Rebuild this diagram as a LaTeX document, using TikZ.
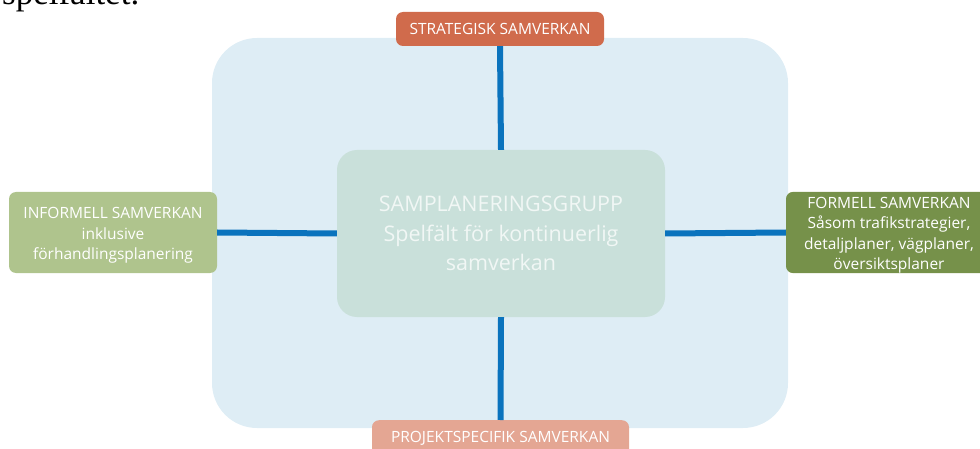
\documentclass[tikz,border=0pt]{standalone}
\usepackage{fontspec}
\setmainfont{Open Sans}
\newfontfamily\serifbody{Liberation Serif}
\definecolor{bgblue}{HTML}{DEEDF5}
\definecolor{centerbox}{HTML}{C9E0DA}
\definecolor{centertext}{HTML}{F1F7F5}
\definecolor{linkblue}{HTML}{0A73BD}
\definecolor{topred}{HTML}{D06B4C}
\definecolor{leftgreen}{HTML}{AFC48D}
\definecolor{rightgreen}{HTML}{76914A}
\definecolor{bottompink}{HTML}{E4A693}
\newcommand{\lowertext}[1]{\raisebox{-2.5pt}[\height][\depth]{\begin{tabular}{@{}c@{}}#1\end{tabular}}}
\begin{document}
\begin{tikzpicture}[x=1pt,y=-1pt,
  sidebox/.style={rounded corners=7pt, text=white, align=center, inner sep=0pt, font=\fontsize{15.5}{20.3}\selectfont},
  link/.style={draw=linkblue, line width=6pt}]
\useasboundingbox (0,0) rectangle (980,449);
\clip (0,0) rectangle (980,449);
% partial caption text at top-left
\node[anchor=base west, inner sep=0pt, font=\serifbody\fontsize{35}{35}\selectfont] (caption) at (2,5) {spelfältet.};
% background panel
\fill[bgblue, rounded corners=45pt] (212,38) rectangle (788,428);
% nodes
\coordinate (ctl) at (337,150);
\coordinate (cbr) at (665,317);
\fill[centerbox, rounded corners=20pt] (ctl) rectangle (cbr);
\node[inner sep=0pt, minimum width=328pt, minimum height=167pt, text=centertext, align=center,
  font=\fontsize{21.5}{29.5}\selectfont] (center) at (501,233.5)
  {SAMPLANERINGSGRUPP\\Spelfält för kontinuerlig\\samverkan};
\node[sidebox, fill=topred, minimum width=208pt, minimum height=34pt] (top) at (500,29) {STRATEGISK SAMVERKAN};
\node[sidebox, fill=leftgreen, minimum width=208pt, minimum height=81pt] (left) at (113,232.5)
  {\lowertext{INFORMELL SAMVERKAN\\inklusive\\förhandlingsplanering}};
\node[sidebox, fill=rightgreen, minimum width=206pt, minimum height=79pt] (right) at (889,232.5)
  {\lowertext{FORMELL SAMVERKAN\\Såsom trafikstrategier,\\detaljplaner, vägplaner,\\översiktsplaner}};
\node[sidebox, fill=bottompink, minimum width=257pt, minimum height=37pt, anchor=north] (bottom) at (500.5,420)
  {PROJEKTSPECIFIK SAMVERKAN};
% connectors
\draw[link] (top.south) -- (center.north);
\draw[link] (center.south) -- (bottom.north);
\draw[link] (left.east) -- (center.west);
\draw[link] (center.east) -- (right.west);
\end{tikzpicture}
\end{document}
